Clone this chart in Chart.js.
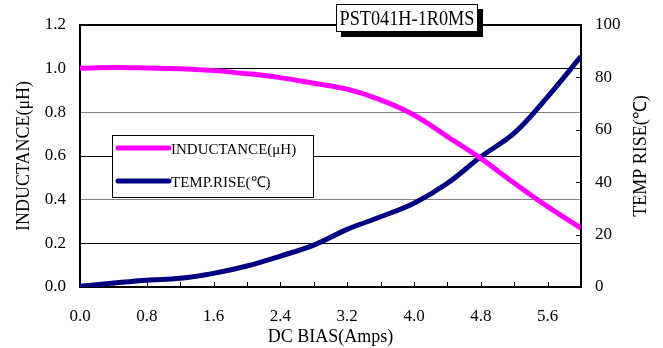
<!DOCTYPE html>
<html>
<head>
<meta charset="utf-8">
<script src="https://cdn.jsdelivr.net/npm/chart.js@4.4.0/dist/chart.umd.min.js"></script>
<style>
  body { margin: 0; background: #fff; }
  canvas { display: block; }
</style>
</head>
<body>
<canvas id="biasChart" width="663" height="348"></canvas>
<script>
// values
const dcBias = [0.0, 0.4, 0.8, 1.2, 1.6, 2.0, 2.4, 2.8, 3.2, 3.6, 4.0, 4.4, 4.8, 5.2, 5.6, 6.0];
const inductance = [1.002, 1.005, 1.003, 1.000, 0.991, 0.977, 0.959, 0.933, 0.906, 0.857, 0.788, 0.689, 0.589, 0.476, 0.368, 0.270];
const tempRise = [0.3, 1.5, 2.6, 3.3, 5.2, 8.0, 11.8, 16.0, 22.0, 26.8, 32.0, 39.6, 49.7, 58.7, 72.6, 88.0];
const xLabels = ["0.0", "0.8", "1.6", "2.4", "3.2", "4.0", "4.8", "5.6"];
const partName = "PST041H-1R0MS";
const serif = "'Liberation Serif', 'Times New Roman', serif";

// draws the frame, inside tick marks, the legend box and the part-number box
const decorations = {
    id: "decorations",
    beforeDatasetsDraw(chart) {
        const { ctx, chartArea: a, scales } = chart;
        ctx.save();
        ctx.strokeStyle = "#000";
        ctx.lineWidth = 1;
        scales.x.ticks.forEach(t => {
            const px = Math.round(scales.x.getPixelForValue(t.value)) + 0.5;
            ctx.beginPath();
            ctx.moveTo(px, a.bottom);
            ctx.lineTo(px, a.bottom - 5);
            ctx.stroke();
        });
        scales.y1.ticks.forEach(t => {
            const py = Math.round(scales.y1.getPixelForValue(t.value)) + 0.5;
            ctx.beginPath();
            ctx.moveTo(a.right, py);
            ctx.lineTo(a.right - 5, py);
            ctx.stroke();
        });
        ctx.lineWidth = 2;
        ctx.strokeRect(a.left, a.top, a.right - a.left, a.bottom - a.top);
        ctx.restore();
    },
    afterDraw(chart) {
        const { ctx, chartArea: a } = chart;
        ctx.save();
        // legend
        ctx.fillStyle = "#fff";
        ctx.fillRect(112, 135, 201, 62);
        ctx.strokeStyle = "#000";
        ctx.lineWidth = 1;
        ctx.strokeRect(112.5, 135.5, 201, 62);
        ctx.font = "15px " + serif;
        ctx.textBaseline = "middle";
        chart.data.datasets.forEach((ds, i) => {
            const y = 148 + i * 33;
            ctx.strokeStyle = ds.borderColor;
            ctx.lineWidth = 5;
            ctx.lineCap = "round";
            ctx.beginPath();
            ctx.moveTo(118, y);
            ctx.lineTo(169, y);
            ctx.stroke();
            ctx.fillStyle = "#000";
            ctx.fillText(ds.label, 171, y + 2);
        });
        // right axis title, reads bottom to top
        ctx.save();
        ctx.font = "18px " + serif;
        ctx.translate(641, (a.top + a.bottom) / 2);
        ctx.rotate(-Math.PI / 2);
        ctx.textAlign = "center";
        ctx.fillText("TEMP RISE(℃)", 0, 0);
        ctx.restore();
        // part number box with shadow
        ctx.fillStyle = "#000";
        ctx.fillRect(341, 9, 142, 28);
        ctx.fillStyle = "#fff";
        ctx.fillRect(336, 4, 142, 28);
        ctx.lineWidth = 1;
        ctx.strokeStyle = "#000";
        ctx.strokeRect(336.5, 4.5, 141, 27);
        ctx.fillStyle = "#000";
        ctx.font = "21px " + serif;
        ctx.textAlign = "center";
        ctx.translate(407, 19);
        ctx.scale(0.87, 1);
        ctx.fillText(partName, 0, 0);
        ctx.restore();
    }
};

new Chart("biasChart", {
    type: "line",
    data: {
        datasets: [{
            label: "INDUCTANCE(μH)",
            data: dcBias.map((x, i) => ({ x: x, y: inductance[i] })),
            borderColor: "#ff00ff",
            borderWidth: 5,
            pointRadius: 0,
            tension: 0.35,
            yAxisID: "y"
        }, {
            label: "TEMP.RISE(℃)",
            data: dcBias.map((x, i) => ({ x: x, y: tempRise[i] })),
            borderColor: "#000080",
            borderWidth: 5,
            pointRadius: 0,
            tension: 0.35,
            yAxisID: "y1"
        }]
    },
    options: {
        responsive: false,
        animation: false,
        devicePixelRatio: 1,
        layout: { padding: { top: 25, left: 0, right: 0, bottom: 0 } },
        plugins: { legend: { display: false }, tooltip: { enabled: false } },
        scales: {
            x: {
                type: "linear",
                min: 0,
                max: 6,
                afterFit: s => { s.height = 61; },
                grid: { display: false, drawTicks: false },
                border: { display: false },
                ticks: {
                    stepSize: 0.4,
                    autoSkip: false,
                    maxRotation: 0,
                    padding: 19,
                    color: "#000",
                    font: { family: serif, size: 17 },
                    callback: v => {
                        const label = v.toFixed(1);
                        return xLabels.includes(label) ? label : "";
                    }
                },
                title: {
                    display: true,
                    text: "DC BIAS(Amps)",
                    color: "#000",
                    font: { family: serif, size: 18 },
                    padding: { top: 0, bottom: 0 }
                }
            },
            y: {
                position: "left",
                min: 0,
                max: 1.2,
                afterFit: s => { s.width = 80; },
                grid: {
                    drawTicks: false,
                    lineWidth: 1,
                    color: c => (c.index % 2 === 0 ? "#808080" : "#000")
                },
                border: { display: false },
                ticks: {
                    stepSize: 0.2,
                    padding: 14,
                    color: "#000",
                    font: { family: serif, size: 17 },
                    callback: v => v.toFixed(1)
                },
                title: {
                    display: true,
                    text: "INDUCTANCE(μH)",
                    color: "#000",
                    font: { family: serif, size: 18 },
                    padding: { top: 13, bottom: 0 }
                }
            },
            y1: {
                position: "right",
                min: 0,
                max: 100,
                afterFit: s => { s.width = 82; },
                grid: { display: false, drawTicks: false },
                border: { display: false },
                ticks: {
                    stepSize: 20,
                    padding: 14,
                    color: "#000",
                    font: { family: serif, size: 17 }
                }
            }
        }
    },
    plugins: [decorations]
});
</script>
</body>
</html>
